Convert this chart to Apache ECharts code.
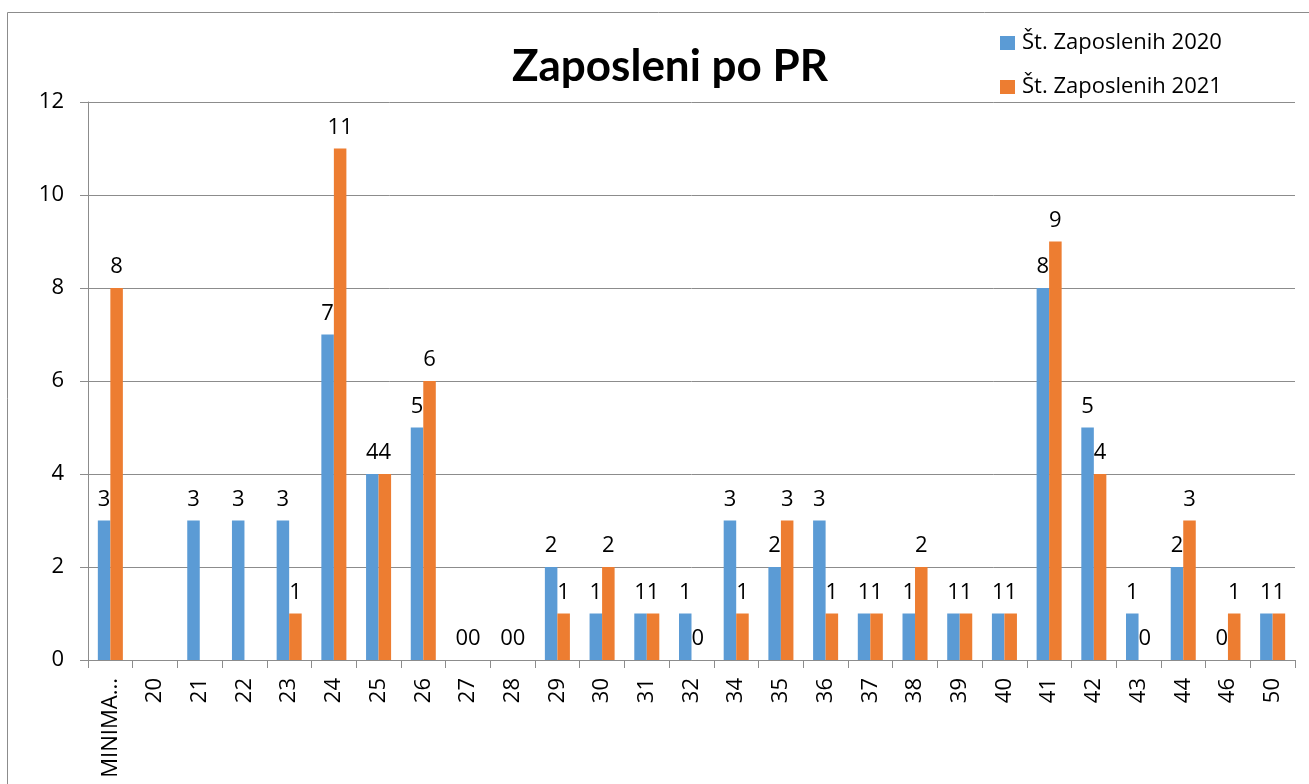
<!DOCTYPE html>
<html>
<head>
<meta charset="utf-8">
<script src="https://cdn.jsdelivr.net/npm/echarts@6/dist/echarts.min.js"></script>
<style>html,body{margin:0;padding:0;background:#fff}#c{width:1309px;height:784px}</style>
</head>
<body>
<div id="c"></div>
<script>
const categories = ['MINIMA...', '20', '21', '22', '23', '24', '25', '26', '27', '28', '29', '30', '31', '32', '34', '35', '36', '37', '38', '39', '40', '41', '42', '43', '44', '46', '50'];
const values2020 = [3, null, 3, 3, 3, 7, 4, 5, 0, 0, 2, 1, 1, 1, 3, 2, 3, 1, 1, 1, 1, 8, 5, 1, 2, 0, 1];
const values2021 = [8, null, null, null, 1, 11, 4, 6, 0, 0, 1, 2, 1, 0, 1, 3, 1, 1, 2, 1, 1, 9, 4, 0, 3, 1, 1];
const seriesNames = ['Št. Zaposlenih 2020', 'Št. Zaposlenih 2021'];
const yTicks = { min: 0, max: 12, interval: 2 };

const FONT = '"Open Sans", Lato, sans-serif';
const chart = echarts.init(document.getElementById('c'), null, { renderer: 'canvas' });
const labelStyle = { show: true, position: 'top', distance: 10, color: '#000', fontSize: 22, fontFamily: FONT };
chart.setOption({
  animation: false,
  graphic: [{ type: 'rect', shape: { x: 7.5, y: 12.5, width: 1320, height: 800 }, style: { fill: 'none', stroke: '#8c8c8c', lineWidth: 1 }, z: -1 }],
  title: {
    text: 'Zaposleni po PR', left: 665, top: 40, textAlign: 'center',
    textStyle: { fontFamily: 'Lato, sans-serif', fontWeight: 'bold', fontSize: 44, color: '#000' }
  },
  legend: {
    orient: 'vertical', left: 995, top: 27, itemWidth: 15, itemHeight: 14, itemGap: 22,
    icon: 'rect',
    textStyle: { fontFamily: FONT, fontSize: 22, color: '#000', padding: [0, 0, 0, 2] },
    data: seriesNames
  },
  grid: { left: 88, right: 14, top: 102, bottom: 124, containLabel: false },
  xAxis: {
    type: 'category', data: categories,
    axisLine: { lineStyle: { color: '#8c8c8c', width: 1 } },
    axisTick: { show: true, length: 8, lineStyle: { color: '#8c8c8c' } },
    axisLabel: { rotate: 90, interval: 0, color: '#000', fontSize: 22, fontFamily: FONT, margin: 18 }
  },
  yAxis: {
    type: 'value', min: yTicks.min, max: yTicks.max, interval: yTicks.interval,
    axisLine: { show: true, lineStyle: { color: '#8c8c8c' } },
    axisTick: { show: true, length: 8, lineStyle: { color: '#8c8c8c' } },
    splitLine: { lineStyle: { color: '#8c8c8c', width: 1 } },
    axisLabel: { color: '#000', fontSize: 22, fontFamily: FONT, margin: 24 }
  },
  series: [
    { name: seriesNames[0], type: 'bar', data: values2020, barGap: '0%', barCategoryGap: '44%',
      itemStyle: { color: '#5B9BD5' }, label: labelStyle },
    { name: seriesNames[1], type: 'bar', data: values2021, barGap: '0%', barCategoryGap: '44%',
      itemStyle: { color: '#ED7D31' }, label: labelStyle }
  ]
});
</script>
</body>
</html>
